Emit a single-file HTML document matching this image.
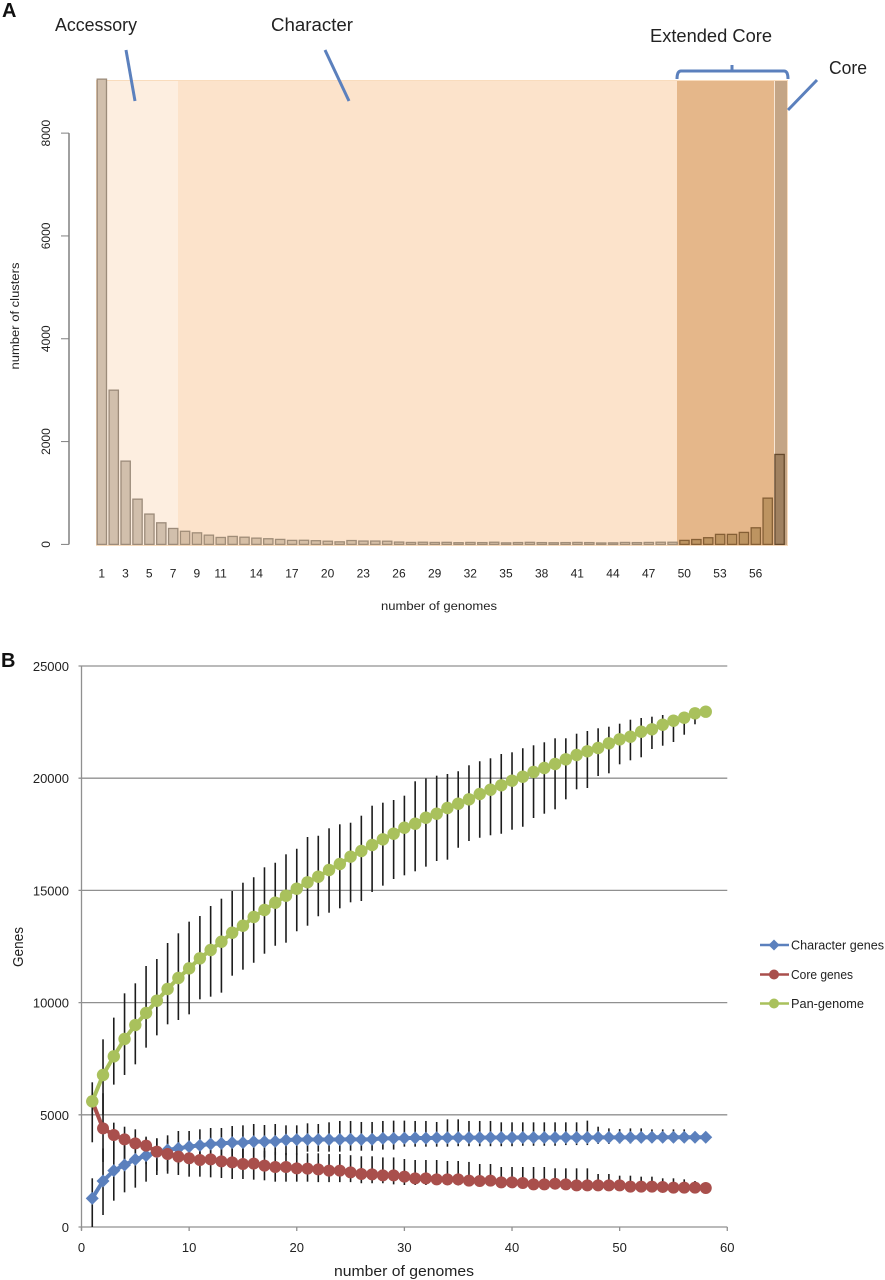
<!DOCTYPE html>
<html lang="en">
<head>
<meta charset="utf-8">
<title>Pan-genome cluster distribution and gene accumulation</title>
<style>
html,body{margin:0;padding:0;background:#fff;}
svg{display:block;font-family:"Liberation Sans",Arial,sans-serif;}
</style>
</head>
<body>
<svg id="fig" xmlns="http://www.w3.org/2000/svg" width="885" height="1280" viewBox="0 0 885 1280">
  <rect width="885" height="1280" fill="#fff"/>
  <text x="2" y="17" font-size="20" font-weight="bold" fill="#111">A</text>
  <text x="1" y="667" font-size="20" font-weight="bold" fill="#111">B</text>

  <g id="panelA">
    <rect x="96" y="80" width="692" height="466" fill="#f9dcbd"/>
    <rect x="107" y="81" width="71" height="464" fill="#fdeee0"/>
    <rect x="178" y="81" width="499" height="464" fill="#fce3cb"/>
    <rect x="677" y="81" width="97" height="464" fill="#e5b78a"/>
    <rect x="774" y="81" width="1" height="464" fill="#f8e6d4"/>
    <rect x="775" y="81" width="12" height="464" fill="#c4a586"/>
    <text x="55" y="31" font-size="18" fill="#222" textLength="82" lengthAdjust="spacingAndGlyphs">Accessory</text>
    <text x="271" y="31" font-size="18" fill="#222" textLength="82" lengthAdjust="spacingAndGlyphs">Character</text>
    <text x="650" y="42" font-size="18" fill="#222" textLength="122" lengthAdjust="spacingAndGlyphs">Extended Core</text>
    <text x="829" y="74" font-size="18" fill="#222" textLength="38" lengthAdjust="spacingAndGlyphs">Core</text>
    <line x1="126" y1="50" x2="135" y2="101" stroke="#5b80bd" stroke-width="3"/>
    <line x1="325" y1="50" x2="349" y2="101" stroke="#5b80bd" stroke-width="3"/>
    <line x1="817" y1="80" x2="788" y2="110" stroke="#5b80bd" stroke-width="3"/>
    <path d="M677 79 Q677 71 681 71 L784 71 Q788 71 788 79 M732 71 L732 65" fill="none" stroke="#5b80bd" stroke-width="3"/>
    <text x="439" y="610" font-size="11.5" fill="#222" text-anchor="middle" textLength="116" lengthAdjust="spacingAndGlyphs">number of genomes</text>
    <text transform="translate(19,316) rotate(-90)" font-size="11.5" fill="#222" text-anchor="middle" textLength="107" lengthAdjust="spacingAndGlyphs">number of clusters</text>
  </g>

  <g id="panelB">
    <text x="404" y="1276" font-size="15" fill="#222" text-anchor="middle" textLength="140" lengthAdjust="spacingAndGlyphs">number of genomes</text>
    <text transform="translate(23,947) rotate(-90)" font-size="15" fill="#222" text-anchor="middle" textLength="40" lengthAdjust="spacingAndGlyphs">Genes</text>
  </g>
</svg>
<script>
// ---------- Panel A data ----------
const clusterCategories = [1,2,3,4,5,6,7,8,9,10,11,12,13,14,15,16,17,18,19,20,21,22,23,24,25,26,27,28,29,30,31,32,33,34,35,36,37,38,39,40,41,42,43,44,45,46,47,48,49,50,51,52,53,54,55,56,57,58];
const clusterCounts = [9050,3000,1620,880,590,420,310,255,225,180,135,155,140,122,110,97,78,80,72,62,50,75,65,65,62,45,38,42,38,40,33,38,35,42,30,36,40,35,32,35,38,35,28,30,38,35,38,42,42,78,95,130,195,195,233,323,900,1750];
const clusterXTickLabels = [1,3,5,7,9,11,14,17,20,23,26,29,32,35,38,41,44,47,50,53,56];
const clusterYTicks = [0,2000,4000,6000,8000];

// ---------- Panel B data ----------
const lineXTicks = [0,10,20,30,40,50,60];
const lineYTicks = [0,5000,10000,15000,20000,25000];
const genomeCounts = [1,2,3,4,5,6,7,8,9,10,11,12,13,14,15,16,17,18,19,20,21,22,23,24,25,26,27,28,29,30,31,32,33,34,35,36,37,38,39,40,41,42,43,44,45,46,47,48,49,50,51,52,53,54,55,56,57,58];
const panGenes = [5600,6774,7605,8378,9000,9536,10085,10606,11096,11527,11974,12344,12714,13115,13427,13815,14127,14452,14764,15076,15361,15611,15909,16176,16503,16756,17023,17277,17527,17794,17972,18240,18418,18672,18864,19059,19296,19488,19684,19889,20067,20276,20455,20633,20842,21034,21199,21346,21555,21733,21850,22073,22180,22385,22563,22697,22892,22964];
const panHigh = [6448,8363,9328,10413,10859,11631,11943,12656,13088,13607,13859,14305,14631,14973,15343,15584,16029,16234,16608,16858,17380,17438,17767,17945,18016,18329,18775,18909,19029,19221,19862,19995,20112,20187,20307,20575,20753,20887,21078,21154,21332,21466,21600,21778,21778,21983,22103,22224,22295,22429,22607,22683,22741,22816,22772,22800,22900,22964];
const panLow = [3775,5000,6343,6775,7249,7992,8541,9032,9225,9477,10146,10264,10443,11199,11467,11778,12179,12536,12670,13177,13427,13846,14006,14202,14469,14528,14929,15211,15508,15672,15851,16058,16310,16369,16903,17201,17348,17456,17527,17705,17839,18226,18418,18614,19059,19505,19563,20098,20218,20619,20797,20932,21301,21448,21613,21938,22403,22964];
const characterGenes = [1278,2050,2510,2763,3016,3179,3342,3431,3506,3580,3640,3700,3729,3758,3758,3803,3803,3818,3877,3892,3900,3900,3900,3900,3910,3900,3910,3950,3950,3960,3970,3960,3975,3980,3985,3985,3985,3990,3990,3990,3990,3990,3990,3990,3990,3990,3990,3995,3995,3995,3995,3995,4000,4000,4000,4000,4000,4000];
const characterHigh = [2170,3500,3800,3900,3950,3950,3951,4085,4278,4278,4353,4412,4412,4500,4530,4590,4545,4590,4530,4530,4620,4590,4665,4725,4725,4680,4680,4725,4740,4740,4725,4725,4680,4798,4798,4725,4725,4725,4665,4665,4665,4665,4665,4665,4665,4665,4740,4470,4395,4365,4395,4395,4350,4350,4350,4350,4250,4000];
const characterLow = [0,535,1173,1545,1753,2020,2318,2500,2800,2900,3000,3000,3050,3050,3100,3100,3100,3200,3200,3200,3358,3358,3358,3358,3400,3400,3400,3450,3450,3580,3580,3580,3580,3580,3600,3600,3600,3600,3600,3600,3620,3620,3620,3620,3650,3650,3650,3700,3700,3720,3720,3750,3750,3780,3780,3800,3850,4000];
const coreGenes = [5600,4396,4100,3906,3729,3625,3358,3253,3135,3061,2986,3016,2926,2881,2807,2822,2733,2674,2674,2614,2600,2570,2510,2510,2436,2362,2347,2303,2303,2243,2169,2169,2124,2124,2124,2065,2050,2065,1990,1990,1961,1901,1901,1930,1901,1857,1857,1857,1857,1857,1797,1797,1797,1785,1753,1753,1753,1738];
const coreHigh = [6000,5960,4650,4470,4353,4026,3951,3900,3800,3750,3700,3650,3600,3550,3500,3450,3400,3350,3300,3300,3283,3283,3250,3250,3200,3150,3150,3100,3100,3030,2986,2986,2986,2941,2941,2900,2807,2807,2674,2674,2674,2674,2674,2614,2614,2614,2614,2362,2362,2287,2287,2243,2243,2169,2169,2124,2050,1738];
const coreLow = [5000,2900,3000,3000,2900,2800,2500,2377,2318,2243,2243,2213,2184,2140,2140,2110,2080,2020,2020,2020,2020,2000,2000,2000,2000,1950,1950,1950,1900,1872,1872,1872,1870,1860,1850,1840,1830,1820,1800,1790,1780,1750,1740,1730,1720,1700,1700,1700,1700,1700,1680,1670,1660,1650,1640,1640,1640,1738];
const legendLabels = ["Character genes","Core genes","Pan-genome"];
const legendWidths = [93,62,73];

// ---------- Axis functions ----------
function barLeft(c){ return 96.7 + (c - 1) * 11.89; }
function barY(v){ return 544.4 - v * 0.05141; }
function lineX(v){ return 81.5 + v * 10.763; }
function lineY(v){ return 1227 - v * 0.02244; }

const NS = "http://www.w3.org/2000/svg";
function mk(parent, tag, props, text){
  const el = document.createElementNS(NS, tag);
  for (const k in props) el.setAttribute(k, props[k]);
  if (text !== undefined) el.textContent = text;
  parent.appendChild(el);
  return el;
}
const A = document.getElementById("panelA");
const B = document.getElementById("panelB");

// ---------- Panel A ----------
function barFill(c){ return c <= 49 && c > 7 ? "#d6bfa6" : c <= 7 ? "#d1bfac" : c <= 57 ? "#bd9461" : "#a08160"; }
function barStroke(c){ return c <= 49 && c > 7 ? "#a08d78" : c <= 7 ? "#9c8b7a" : c <= 57 ? "#855f35" : "#65492c"; }
clusterCategories.forEach(function(c, i){
  const top = barY(clusterCounts[i]);
  const r = mk(A, "rect", {x: barLeft(c) + 0.5, y: top, width: 9.3, height: barY(0) - top, fill: barFill(c), stroke: barStroke(c), "stroke-width": 1.3});
  
  
});
clusterXTickLabels.forEach(function(c){
  const t = mk(A, "text", {x: barLeft(c) + 5, y: 577.5, "font-size": 12, fill: "#222", "text-anchor": "middle"}, String(c));
  
  
});
const yAxisA = mk(A, "line", {x1: 69, x2: 69, y1: barY(8000), y2: barY(0), stroke: "#808080", "stroke-width": 1.5});


clusterYTicks.forEach(function(v){
  const tick = mk(A, "line", {x1: 61, x2: 69, y1: barY(v), y2: barY(v), stroke: "#808080", "stroke-width": 1});
  
  
  const lab = mk(A, "text", {transform: "translate(50," + barY(v) + ") rotate(-90)", "font-size": 12, fill: "#222", "text-anchor": "middle"}, String(v));
  
  
});

// ---------- Panel B ----------
const GRID = "#909090";
lineYTicks.forEach(function(v){
  const g = mk(B, "line", {x1: lineX(0) - 3, x2: lineX(60), y1: lineY(v), y2: lineY(v), stroke: GRID, "stroke-width": 1.3});
  
  
  const lab = mk(B, "text", {x: 69, y: lineY(v) + 5, "font-size": 13, fill: "#222", "text-anchor": "end"}, String(v));
  
  
});
const yAxisB = mk(B, "line", {x1: lineX(0), x2: lineX(0), y1: lineY(25000), y2: lineY(0) + 3, stroke: GRID, "stroke-width": 1.3});


lineXTicks.forEach(function(v){
  const tick = mk(B, "line", {x1: lineX(v), x2: lineX(v), y1: lineY(0), y2: lineY(0) + 4, stroke: GRID, "stroke-width": 1.3});
  
  
  const lab = mk(B, "text", {x: lineX(v), y: 1252, "font-size": 13, fill: "#222", "text-anchor": "middle"}, String(v));
  
  
});

function drawErrors(lows, highs){
  genomeCounts.forEach(function(x, i){
    const e = mk(B, "line", {x1: lineX(x), x2: lineX(x), y1: lineY(lows[i]), y2: lineY(highs[i]), stroke: "#1c1c1c", "stroke-width": 1.6});
    
    
  });
}
drawErrors(characterLow, characterHigh);
drawErrors(coreLow, coreHigh);
drawErrors(panLow, panHigh);

function polyPoints(values){
  return values.map(function(v, i){ return lineX(genomeCounts[i]) + "," + lineY(v); }).join(" ");
}
function diamond(parent, cx, cy, r, color){
  return mk(parent, "polygon", {points: (cx - r) + "," + cy + " " + cx + "," + (cy - r) + " " + (cx + r) + "," + cy + " " + cx + "," + (cy + r), fill: color});
}
const BLUE = "#5b80bd", RED = "#a94f4c", GREEN = "#a9c15c";

const charLine = mk(B, "polyline", {points: polyPoints(characterGenes), fill: "none", stroke: BLUE, "stroke-width": 4});


characterGenes.forEach(function(v, i){
  const m = diamond(B, lineX(genomeCounts[i]), lineY(v), 6.5, BLUE);
  
  
});
const coreLine = mk(B, "polyline", {points: polyPoints(coreGenes), fill: "none", stroke: RED, "stroke-width": 4});


coreGenes.forEach(function(v, i){
  const m = mk(B, "circle", {cx: lineX(genomeCounts[i]), cy: lineY(v), r: 6, fill: RED});
  
  
});
const panLine = mk(B, "polyline", {points: polyPoints(panGenes), fill: "none", stroke: GREEN, "stroke-width": 4});


panGenes.forEach(function(v, i){
  const m = mk(B, "circle", {cx: lineX(genomeCounts[i]), cy: lineY(v), r: 6.2, fill: GREEN});
  
  
});

// ---------- Legend ----------
const legendColors = [BLUE, RED, GREEN];
const legendRows = [945, 974.5, 1003.5];
legendLabels.forEach(function(label, i){
  const y = legendRows[i];
  const l = mk(B, "line", {x1: 760, x2: 789, y1: y, y2: y, stroke: legendColors[i], "stroke-width": 2.5});
  
  
  const m = i === 0 ? diamond(B, 774, y, 5.5, legendColors[i]) : mk(B, "circle", {cx: 774, cy: y, r: 5, fill: legendColors[i]});
  
  
  const t = mk(B, "text", {x: 791, y: y + 4.5, "font-size": 13, fill: "#222", textLength: legendWidths[i], lengthAdjust: "spacingAndGlyphs"}, label);
  
  
});
</script>
</body>
</html>
